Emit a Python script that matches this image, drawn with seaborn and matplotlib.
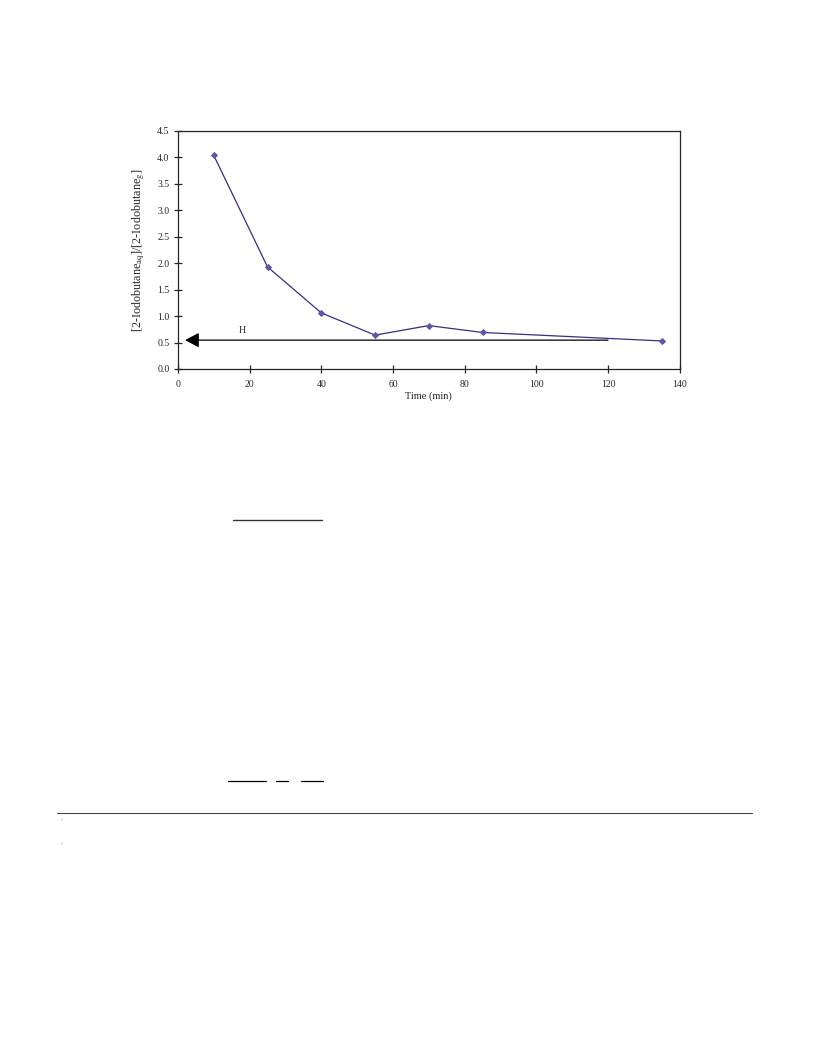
import matplotlib
matplotlib.use("Agg")
import matplotlib.pyplot as plt
from matplotlib.lines import Line2D
import seaborn as sns
import pandas as pd

# data
time_min = [10, 25, 40, 55, 70, 85, 135]
ratio = [4.04, 1.93, 1.06, 0.64, 0.82, 0.69, 0.53]

henry_value = 0.545
henry_from = 120
henry_to = 2

sns.set_style("ticks")
plt.rcParams['font.family'] = ['Liberation Serif', 'DejaVu Serif']
plt.rcParams['mathtext.fontset'] = 'stix'

df = pd.DataFrame({"Time (min)": time_min, "ratio": ratio})

fig = plt.figure(figsize=(8.16, 10.56), dpi=100)
ax = fig.add_axes([0.218, 0.6506, 0.615, 0.2254])

sns.lineplot(data=df, x="Time (min)", y="ratio", ax=ax, color="#3d2a8a",
             linewidth=0.9, marker="D", markersize=3.0,
             markerfacecolor="#5a5aa8", markeredgecolor="#5a5aa8")

# Henry's law constant arrow
ax.annotate("", xy=(henry_to, henry_value), xytext=(henry_from, henry_value),
            arrowprops=dict(arrowstyle="-|>,head_length=0.85,head_width=0.45",
                            color="black", lw=0.9, shrinkA=0, shrinkB=0))
ax.text(18, henry_value + 0.1, "H", fontsize=7, ha="center", va="bottom")

ax.set_xlim(0, 140)
ax.set_ylim(0, 4.5)
ax.set_xticks(range(0, 141, 20))
ax.set_yticks([i * 0.5 for i in range(10)])
ax.set_yticklabels([f"{i * 0.5:.1f}" for i in range(10)])
ax.tick_params(axis="x", direction="inout", length=6, width=0.9, labelsize=7, pad=5)
ax.tick_params(axis="y", direction="inout", length=6, width=0.9, labelsize=7, pad=3)
for s in ax.spines.values():
    s.set_linewidth(0.9)
    s.set_visible(True)

ax.set_xlabel("Time (min)", fontsize=7.5, labelpad=2)
ax.set_ylabel(r"[2-Iodobutane$_{\mathrm{aq}}$]/[2-Iodobutane$_{\mathrm{g}}$]",
              fontsize=8.7, labelpad=7)

# page rules around the chart
W, H = 816, 1056
def hline(x0, x1, y, lw=0.9, c="black"):
    fig.add_artist(Line2D([x0 / W, x1 / W], [1 - y / H, 1 - y / H], color=c, lw=lw))

hline(233, 322, 520, lw=1.0, c="#333333")
hline(228, 266, 781)
hline(276, 288, 781)
hline(301, 323, 781)
hline(57, 752, 813, lw=0.8, c="#444444")
fig.text(61 / W, 1 - 818 / H, ".", fontsize=5, ha="center", va="center")
fig.text(61 / W, 1 - 843 / H, ".", fontsize=5, ha="center", va="center")

fig.savefig("out.png", dpi=100)
